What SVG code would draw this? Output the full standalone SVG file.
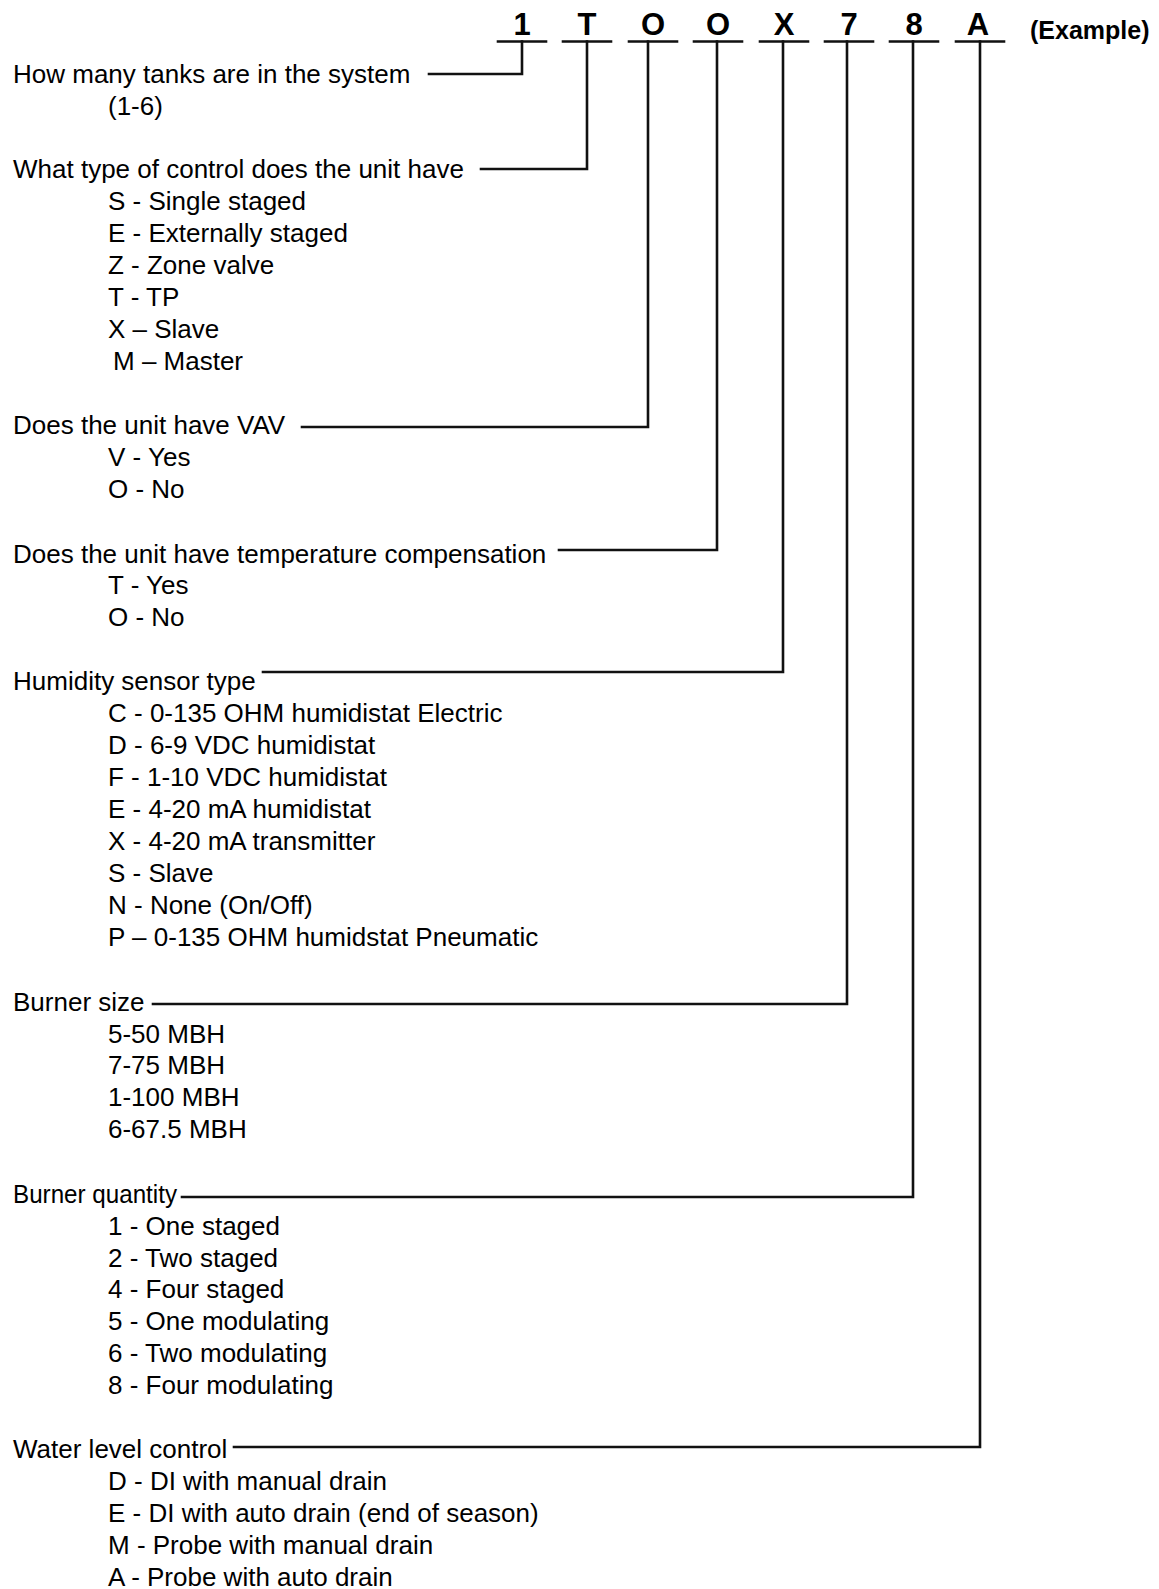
<svg xmlns="http://www.w3.org/2000/svg" width="1159" height="1589" viewBox="0 0 1159 1589">
<style>
text{font-family:"Liberation Sans",Arial,sans-serif;fill:#000}
.t{font-size:26px}
.code{font-size:31px;font-weight:bold;text-anchor:middle}
.ex{font-size:25px;font-weight:bold}
.ln{stroke:#111;stroke-width:2.6;fill:none;stroke-linecap:square;stroke-linejoin:miter}
</style>
<rect width="1159" height="1589" fill="#fff"/>
<g id="code">
<text class="code" x="522" y="35">1</text>
<text class="code" x="587" y="35">T</text>
<text class="code" x="653" y="35">O</text>
<text class="code" x="718" y="35">O</text>
<text class="code" x="784" y="35">X</text>
<text class="code" x="849" y="35">7</text>
<text class="code" x="914" y="35">8</text>
<text class="code" x="978" y="35">A</text>
<text class="ex" x="1030" y="39">(Example)</text>
</g>
<g id="connectors">
<path class="ln" d="M498 41.5H546M563 41.5H611M629 41.5H677M694 41.5H742M760 41.5H808M825 41.5H873M890 41.5H938M956 41.5H1004"/>
<path class="ln" d="M522 41.5V74H429"/>
<path class="ln" d="M587 41.5V169H481"/>
<path class="ln" d="M648 41.5V427H302"/>
<path class="ln" d="M717 41.5V550H559"/>
<path class="ln" d="M783 41.5V672H263"/>
<path class="ln" d="M847 41.5V1004H153"/>
<path class="ln" d="M913 41.5V1197H182"/>
<path class="ln" d="M980 41.5V1447H234"/>
</g>
<g id="tanks" class="t">
<text x="13" y="83">How many tanks are in the system</text>
<text x="108" y="115">(1-6)</text>
</g>
<g id="control" class="t">
<text x="13" y="178">What type of control does the unit have</text>
<text x="108" y="210">S - Single staged</text>
<text x="108" y="242">E - Externally staged</text>
<text x="108" y="274">Z - Zone valve</text>
<text x="108" y="306">T - TP</text>
<text x="108" y="338">X – Slave</text>
<text x="113" y="370">M – Master</text>
</g>
<g id="vav" class="t">
<text x="13" y="434">Does the unit have VAV</text>
<text x="108" y="466">V - Yes</text>
<text x="108" y="498">O - No</text>
</g>
<g id="tempcomp" class="t">
<text x="13" y="563">Does the unit have temperature compensation</text>
<text x="108" y="594">T - Yes</text>
<text x="108" y="626">O - No</text>
</g>
<g id="humidity" class="t">
<text x="13" y="690">Humidity sensor type</text>
<text x="108" y="722">C - 0-135 OHM humidistat Electric</text>
<text x="108" y="754">D - 6-9 VDC humidistat</text>
<text x="108" y="786">F - 1-10 VDC humidistat</text>
<text x="108" y="818">E - 4-20 mA humidistat</text>
<text x="108" y="850">X - 4-20 mA transmitter</text>
<text x="108" y="882">S - Slave</text>
<text x="108" y="914">N - None (On/Off)</text>
<text x="108" y="946">P – 0-135 OHM humidstat Pneumatic</text>
</g>
<g id="burnersize" class="t">
<text x="13" y="1011">Burner size</text>
<text x="108" y="1043">5-50 MBH</text>
<text x="108" y="1074">7-75 MBH</text>
<text x="108" y="1106">1-100 MBH</text>
<text x="108" y="1138">6-67.5 MBH</text>
</g>
<g id="burnerqty" class="t">
<text x="13" y="1203" textLength="164" lengthAdjust="spacingAndGlyphs">Burner quantity</text>
<text x="108" y="1235">1 - One staged</text>
<text x="108" y="1267">2 - Two staged</text>
<text x="108" y="1298">4 - Four staged</text>
<text x="108" y="1330">5 - One modulating</text>
<text x="108" y="1362">6 - Two modulating</text>
<text x="108" y="1394">8 - Four modulating</text>
</g>
<g id="water" class="t">
<text x="13" y="1458">Water level control</text>
<text x="108" y="1490">D - DI with manual drain</text>
<text x="108" y="1522">E - DI with auto drain (end of season)</text>
<text x="108" y="1554">M - Probe with manual drain</text>
<text x="108" y="1586">A - Probe with auto drain</text>
</g>
</svg>
